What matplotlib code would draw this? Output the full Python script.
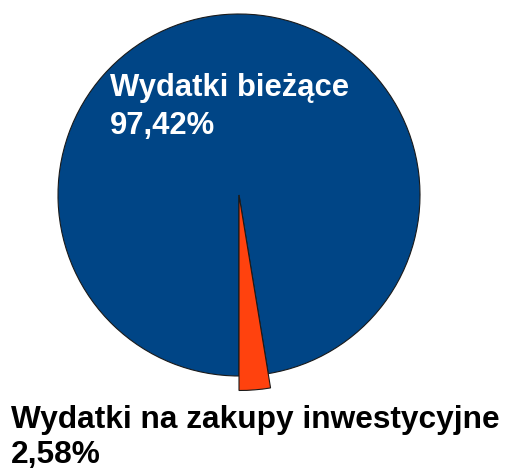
import matplotlib.pyplot as plt

# pie data
labels = ["Wydatki na zakupy inwestycyjne", "Wydatki bieżące"]
values = [2.58, 97.42]
value_text = ["2,58%", "97,42%"]
colors = ["#FF420E", "#004586"]

W, H = 505, 476
plt.rcParams["font.family"] = ["Liberation Sans", "DejaVu Sans"]
fig = plt.figure(figsize=(W / 100, H / 100), dpi=100)
ax = fig.add_axes([0, 0, 1, 1])

cx, cy, r = 239, H - 195, 181
wedges, _ = ax.pie(
    values,
    colors=colors,
    startangle=-90,
    counterclock=True,
    center=(cx, cy),
    radius=r,
    wedgeprops=dict(edgecolor="#1a1a1a", linewidth=0.8),
)
# small slice sticks out a bit past the rim
wedges[0].set_radius(r * 1.08)
wedges[0].set_zorder(3)

ax.set_xlim(0, W)
ax.set_ylim(0, H)
ax.set_aspect("equal")
ax.axis("off")

# labels: name on one line, share on the next (baselines in pixels from top)
kw = dict(fontweight="bold", ha="left", va="baseline")
ax.text(110, H - 96, labels[1], color="white", fontsize=22.3, **kw)
ax.text(110, H - 134, value_text[1], color="white", fontsize=22.3, **kw)
ax.text(11, H - 428, labels[0], color="black", fontsize=22.8, **kw)
ax.text(11, H - 463, value_text[0], color="black", fontsize=22.8, **kw)

fig.savefig("out.png", dpi=100)
